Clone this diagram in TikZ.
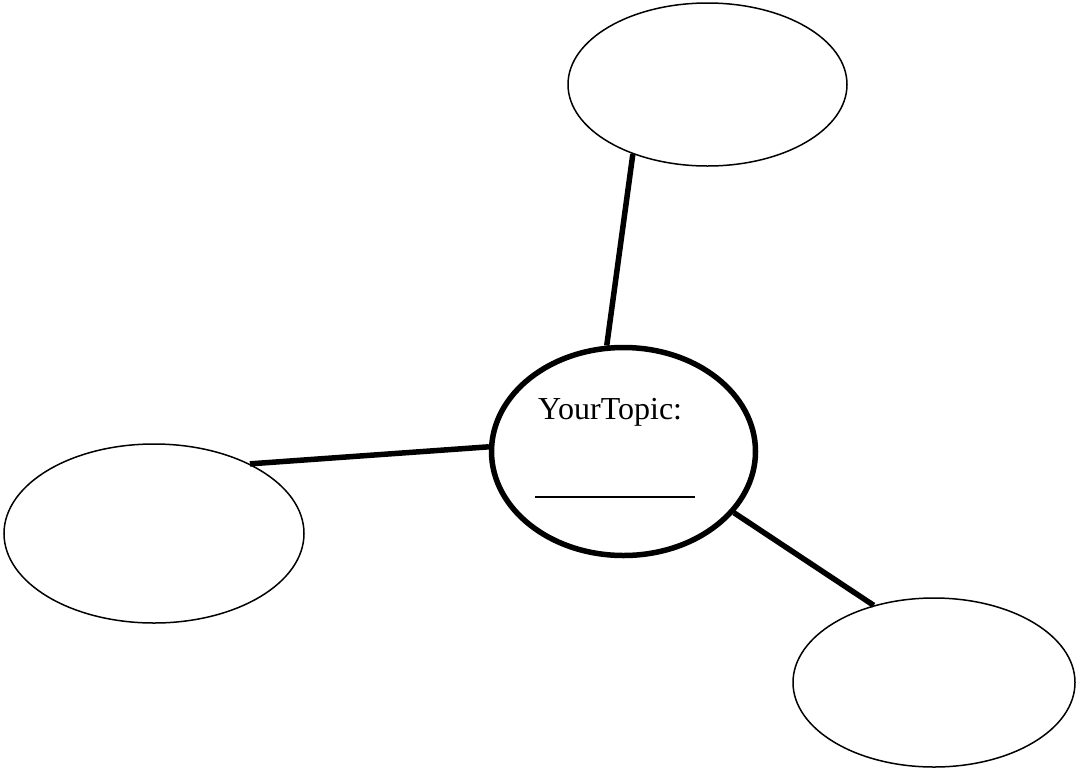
\documentclass[tikz,border=0pt]{standalone}
\usepackage{fontspec}
\setmainfont{Liberation Serif}
\usetikzlibrary{shapes.geometric}
\begin{document}
\begin{tikzpicture}[x=1pt,y=-1pt,
  bubble/.style={ellipse,draw,line width=1.5pt,inner sep=0pt,minimum width=#1},
  topicbubble/.style={ellipse,draw,line width=5.5pt,inner sep=0pt,minimum width=264pt,minimum height=208pt},
  link/.style={line width=5.5pt}]
\useasboundingbox (0,0) rectangle (1079,769);
% outer topics
\node[bubble=279pt,minimum height=163pt] (top) at (707.5,84.5) {};
\node[bubble=300pt,minimum height=179pt] (left) at (154,533.5) {};
\node[bubble=282pt,minimum height=169pt] (right) at (934,682.5) {};
% central topic
\node[topicbubble] (topic) at (623.5,451.5) {};
\node[anchor=base west,font=\fontsize{32}{32}\selectfont,inner sep=0pt] (label) at (538,419) {YourTopic:};
\coordinate (ulA) at (535,497);
\coordinate (ulB) at (695,497);
\draw[line width=1.5pt] (ulA) -- (ulB);
% connectors
\draw[link] (top.223.4) -- (topic.99.8);
\draw[link] (left.36.6) -- (topic.178.5);
\draw[link] (right.128.7) -- (topic.-29.7);
\end{tikzpicture}
\end{document}
